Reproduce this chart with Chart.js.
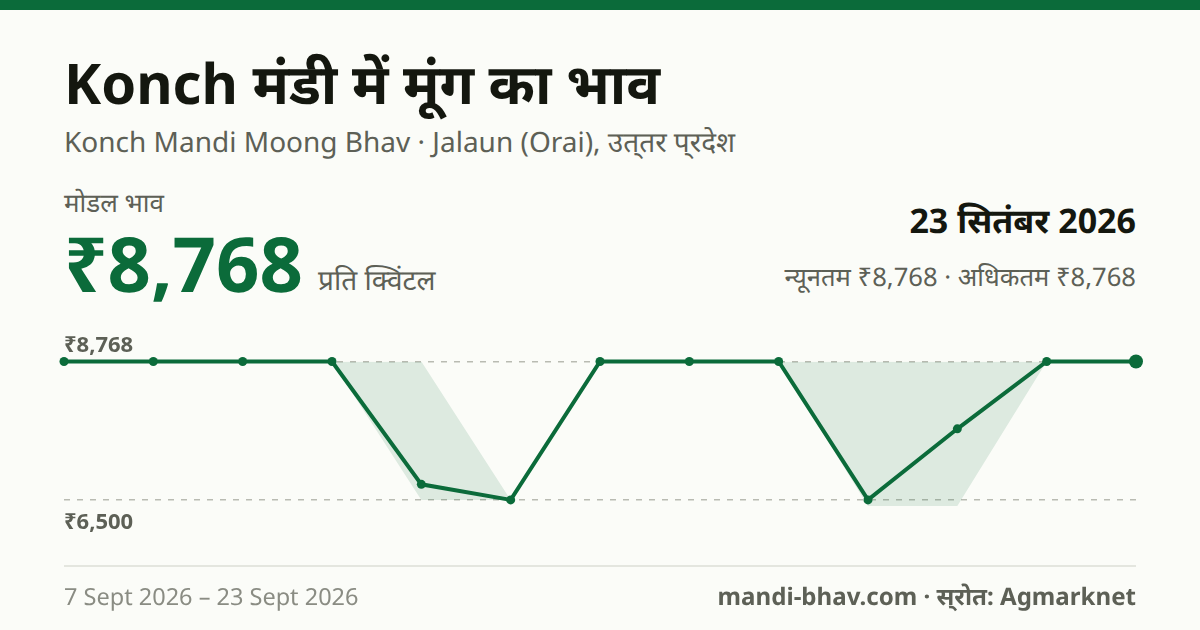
<!DOCTYPE html>
<html lang="hi">
<head>
<meta charset="utf-8">
<title>Konch मंडी में मूंग का भाव</title>
<script src="https://cdn.jsdelivr.net/npm/chart.js@4"></script>
<style>
  html, body { margin: 0; padding: 0; }
  body {
    width: 1200px; height: 630px; position: relative; overflow: hidden;
    background: #fbfcf8;
    font-family: "Noto Sans", sans-serif;
    text-rendering: geometricPrecision;
  }
  .t { position: absolute; white-space: nowrap; line-height: 1; }
  #bar { position: absolute; left: 0; top: 0; width: 1200px; height: 10px; background: #0b6b3a; }
  #title { left: 64px; top: 55px; font-size: 56px; font-weight: 700; color: #14170f; }
  #sub { left: 64px; top: 128px; font-size: 28px; color: #5d6056; }
  #modalLabel { left: 64px; top: 189px; font-size: 26px; color: #5d6056; }
  #price { left: 64px; top: 226px; font-size: 76px; font-weight: 700; color: #0b6b3a; }
  #unit { left: 318px; top: 266px; font-size: 28px; color: #5d6056; }
  #date { right: 64px; top: 203px; font-size: 34px; font-weight: 700; color: #14170f; }
  #range { right: 64px; top: 264px; font-size: 25.6px; color: #5d6056; }
  #rule { position: absolute; left: 64px; top: 565px; width: 1072px; height: 2px; background: #e4e6df; }
  #span { left: 64px; top: 585px; font-size: 23.5px; color: #8a8c83; }
  #source { right: 64px; top: 585px; font-size: 24.1px; font-weight: 700; color: #5d6056; }
  canvas { position: absolute; left: 0; top: 0; }
</style>
</head>
<body>
<div id="bar"></div>
<div class="t" id="title">Konch मंडी में मूंग का भाव</div>
<div class="t" id="sub">Konch Mandi Moong Bhav · Jalaun (Orai), उत्&zwnj;तर प्&zwnj;रदेश</div>
<div class="t" id="modalLabel">मोडल भाव</div>
<div class="t" id="price">₹8,768</div>
<div class="t" id="unit">प्रति क्विंटल</div>
<div class="t" id="date">23 सितंबर 2026</div>
<div class="t" id="range">न्यूनतम ₹8,768 · अधिकतम ₹8,768</div>
<canvas id="chart" width="1200" height="630"></canvas>
<div id="rule"></div>
<div class="t" id="span">7 Sept 2026 – 23 Sept 2026</div>
<div class="t" id="source">mandi-bhav.com · स्&zwnj;रोत: Agmarknet</div>
<script>
const dates = ["7 Sept", "8 Sept", "9 Sept", "10 Sept", "11 Sept", "12 Sept", "14 Sept", "15 Sept", "16 Sept", "17 Sept", "18 Sept", "22 Sept", "23 Sept"];
const modalPrices = [8768, 8768, 8768, 8768, 6755, 6500, 8768, 8768, 8768, 6500, 7665, 8768, 8768];
const maxPrices = [8768, 8768, 8768, 8768, 8768, 6500, 8768, 8768, 8768, 8768, 8768, 8768, 8768];
const minPrices = [8768, 8768, 8768, 8768, 6500, 6500, 8768, 8768, 8768, 6400, 6400, 8768, 8768];
const axisTicks = [6500, 8768];
const axisMin = 6400;
const axisMax = 8768;

const GREEN = "#0b6b3a";

const PRICE_LABELS = {
  id: "priceLabels",
  afterDraw: (chart) => {
    const ctx = chart.ctx;
    const y = chart.scales.y;
    ctx.save();
    ctx.font = '700 22px "Noto Sans", sans-serif';
    ctx.fillStyle = "#5d6056";
    ctx.textAlign = "left";
    ctx.textBaseline = "alphabetic";
    ctx.fillText("₹" + axisTicks[1].toLocaleString("en-IN"), chart.chartArea.left, y.getPixelForValue(axisTicks[1]) - 10);
    ctx.fillText("₹" + axisTicks[0].toLocaleString("en-IN"), chart.chartArea.left, y.getPixelForValue(axisTicks[0]) + 29);
    ctx.restore();
  },
};

new Chart(document.getElementById("chart"), {
  type: "line",
  data: {
    labels: dates,
    datasets: [
      {
        label: "अधिकतम",
        data: maxPrices,
        borderWidth: 0,
        pointRadius: 0,
        backgroundColor: "rgba(11, 107, 58, 0.12)",
        fill: "+1",
        order: 2,
      },
      {
        label: "न्यूनतम",
        data: minPrices,
        borderWidth: 0,
        pointRadius: 0,
        fill: false,
        order: 2,
      },
      {
        label: "मोडल भाव",
        data: modalPrices,
        borderColor: GREEN,
        backgroundColor: GREEN,
        borderWidth: 4,
        tension: 0,
        pointBorderWidth: 0,
        pointBackgroundColor: GREEN,
        pointRadius: (c) => (c.dataIndex === modalPrices.length - 1 ? 7 : 4.5),
        fill: false,
        clip: false,
        order: 1,
      },
    ],
  },
  options: {
    responsive: false,
    animation: false,
    layout: { padding: { left: 64, right: 64, top: 361.5, bottom: 124 } },
    plugins: { legend: { display: false }, tooltip: { enabled: false } },
    scales: {
      x: { display: false },
      y: {
        min: axisMin,
        max: axisMax,
        afterBuildTicks: (axis) => {
          axis.ticks = axisTicks.map((value) => ({ value }));
        },
        ticks: { display: false },
        border: { display: false, dash: [6, 7] },
        grid: { color: "#b9bbb2", lineWidth: 1.5, drawTicks: false, tickLength: 0 },
      },
    },
  },
  plugins: [PRICE_LABELS],
});
</script>
</body>
</html>
